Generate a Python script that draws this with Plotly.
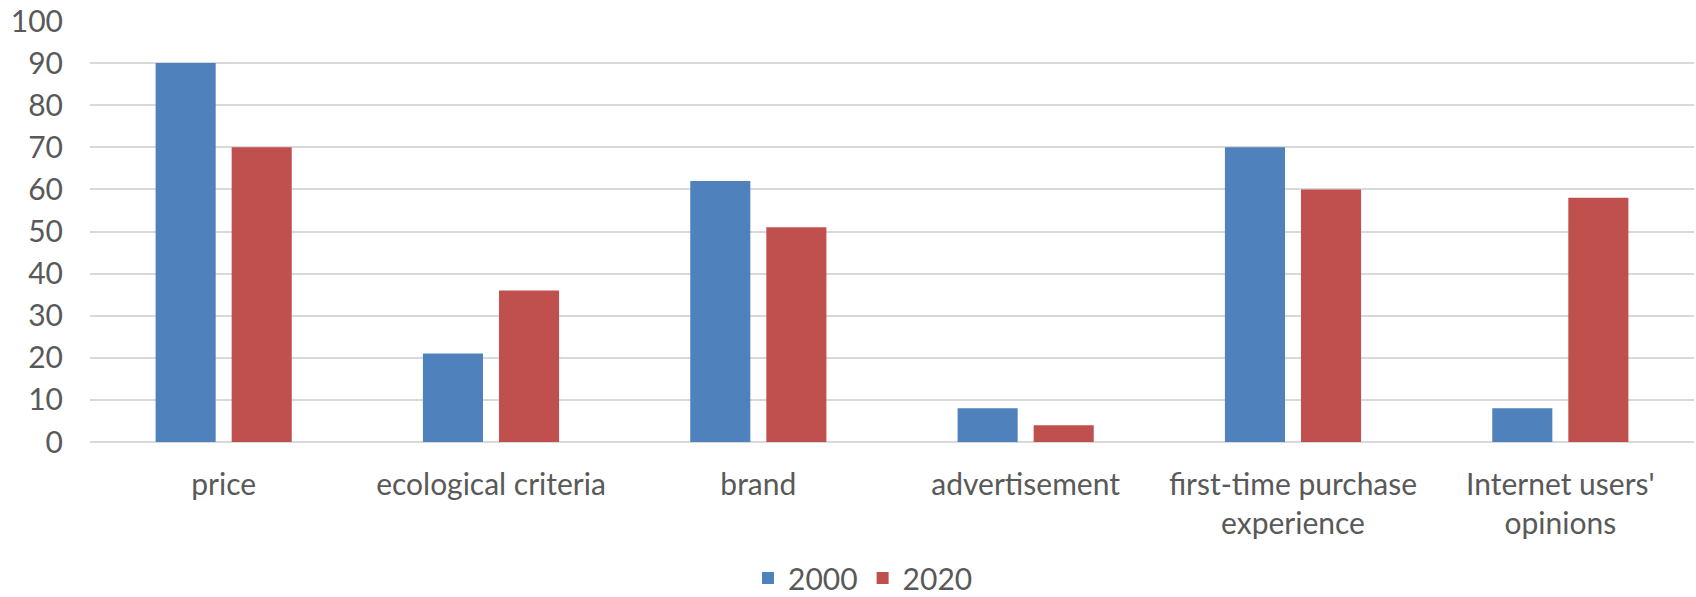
import plotly.graph_objects as go

# Purchase decision factors, share of respondents (%)
categories = [
    "price",
    "ecological criteria",
    "brand",
    "advertisement",
    "first-time purchase<br>experience",
    "Internet users'<br>opinions",
]
values_2000 = [90, 21, 62, 8, 70, 8]
values_2020 = [70, 36, 51, 4, 60, 58]
y_ticks = [0, 10, 20, 30, 40, 50, 60, 70, 80, 90, 100]

BLUE = "#4F81BD"
RED = "#C0504D"
TEXT = "#595959"
GRID = "#D9D9D9"
FONT = "Lato, 'Open Sans', sans-serif"
FS = 30

fig = go.Figure()
fig.add_trace(go.Bar(name="2000", x=categories, y=values_2000, marker_color=BLUE,
                     marker_line_width=0))
fig.add_trace(go.Bar(name="2020", x=categories, y=values_2020, marker_color=RED,
                     marker_line_width=0))

W, H = 1696, 597
L, R, T, B = 90, 2, 21, 155

fig.update_layout(
    width=W, height=H,
    margin=dict(l=L, r=R, t=T, b=B, pad=0, autoexpand=False),
    paper_bgcolor="white", plot_bgcolor="white",
    barmode="group", bargap=0.431, bargroupgap=0.21,
    font=dict(family=FONT, size=FS, color=TEXT),
    showlegend=True,
    legend=dict(
        orientation="h",
        x=(863 - L) / (W - L - R), xanchor="center",
        y=-(578 - (H - B)) / (H - T - B), yanchor="middle",
        font=dict(family=FONT, size=FS, color=TEXT),
        itemwidth=30, traceorder="normal",
        bgcolor="rgba(0,0,0,0)",
    ),
    xaxis=dict(
        showgrid=False, showline=False, zeroline=False, automargin=False,
        ticks="", tickfont=dict(family=FONT, size=FS, color=TEXT),
        ticklabelstandoff=22,
    ),
    yaxis=dict(
        range=[0, 100], tickvals=y_ticks, automargin=False,
        showgrid=True, gridcolor=GRID, gridwidth=1.5,
        zeroline=True, zerolinecolor=GRID, zerolinewidth=1.5,
        showline=False, ticks="",
        tickfont=dict(family=FONT, size=FS, color=TEXT),
        ticklabelstandoff=26,
    ),
)

fig.write_html("out.html")
